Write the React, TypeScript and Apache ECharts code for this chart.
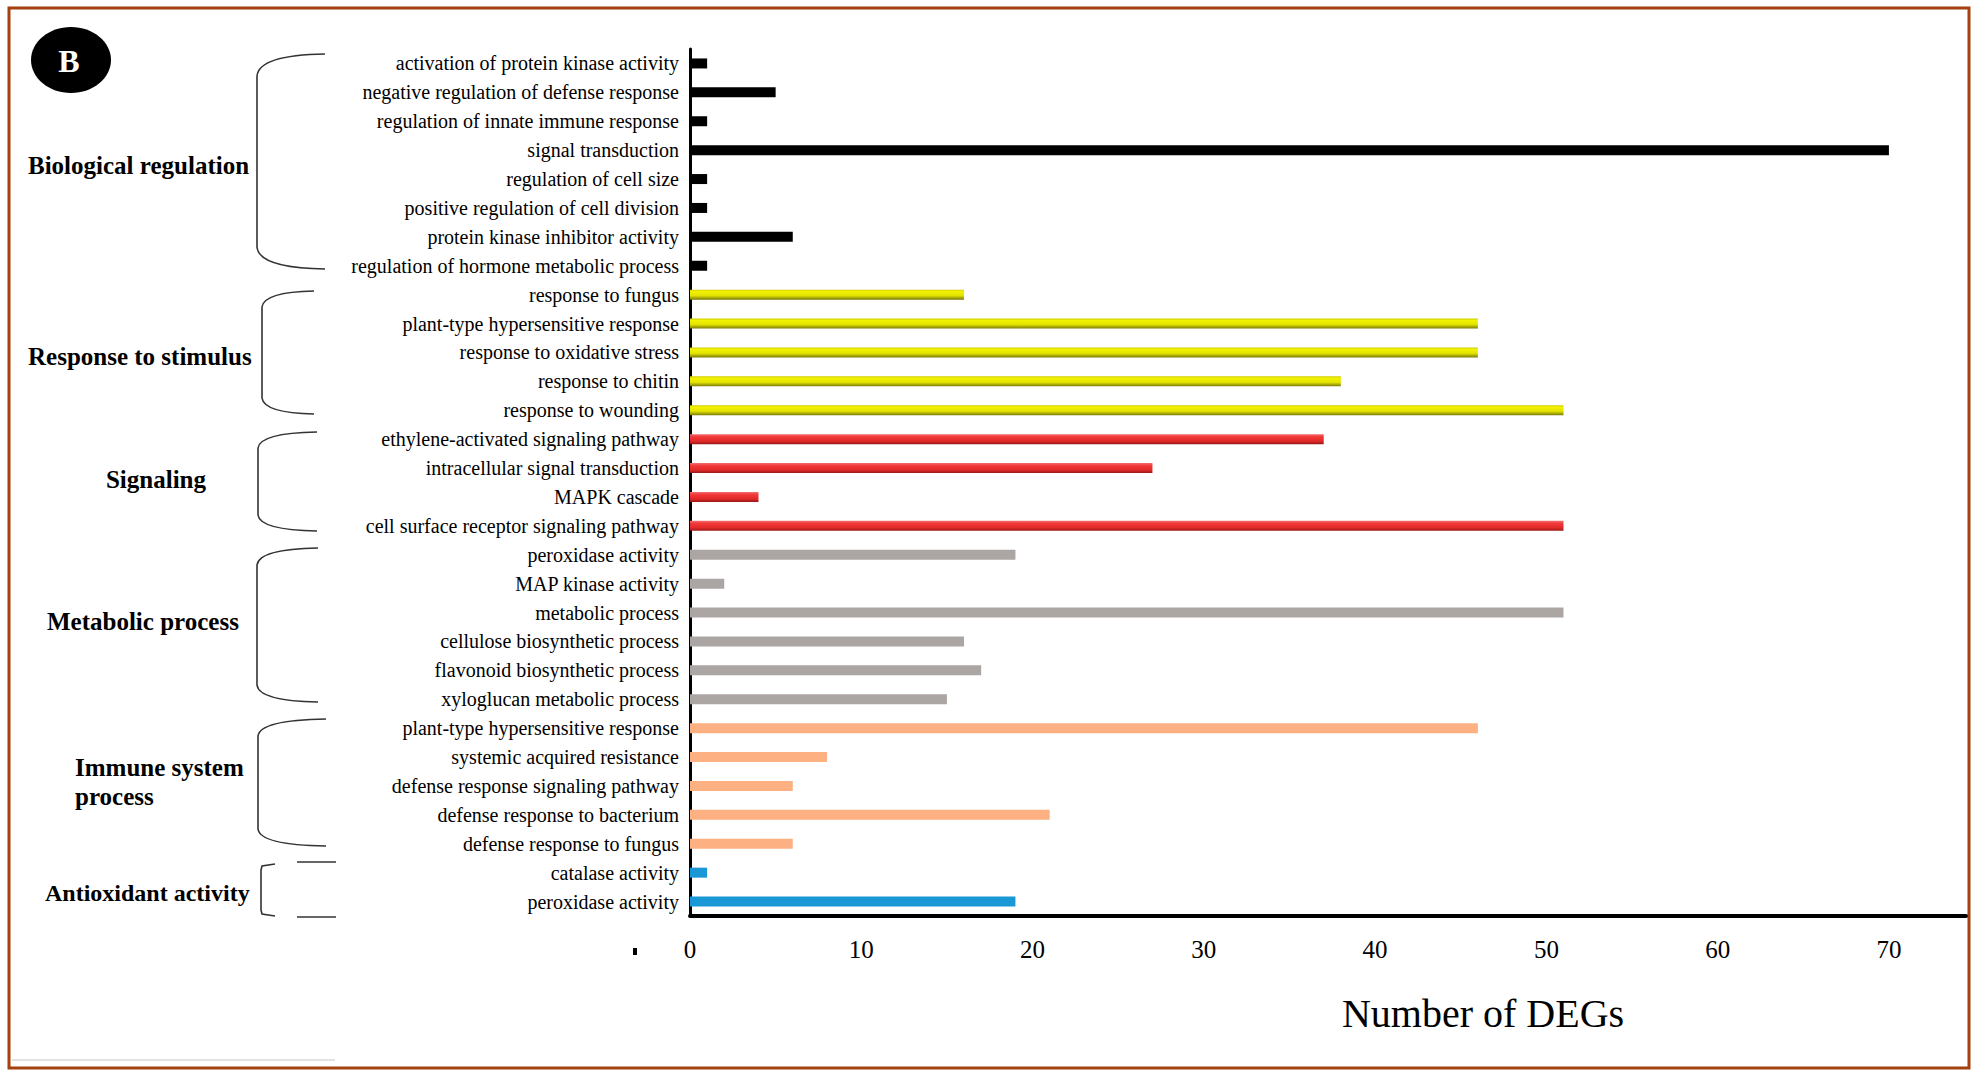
import React, { useEffect, useRef } from "react";
import * as echarts from "echarts";

const categories = [
  "activation of protein kinase activity",
  "negative regulation of defense response",
  "regulation of innate immune response",
  "signal transduction",
  "regulation of cell size",
  "positive regulation of cell division",
  "protein kinase inhibitor activity",
  "regulation of hormone metabolic process",
  "response to fungus",
  "plant-type hypersensitive response",
  "response to oxidative stress",
  "response to chitin",
  "response to wounding",
  "ethylene-activated signaling pathway",
  "intracellular signal transduction",
  "MAPK cascade",
  "cell surface receptor signaling pathway",
  "peroxidase activity",
  "MAP kinase activity",
  "metabolic process",
  "cellulose biosynthetic process",
  "flavonoid biosynthetic process",
  "xyloglucan metabolic process",
  "plant-type hypersensitive response",
  "systemic acquired resistance",
  "defense response signaling pathway",
  "defense response to bacterium",
  "defense response to fungus",
  "catalase activity",
  "peroxidase activity",
];

const values = [
  1, 5, 1, 70, 1, 1, 6, 1,
  16, 46, 46, 38, 51,
  37, 27, 4, 51,
  19, 2, 51, 16, 17, 15,
  46, 8, 6, 21, 6,
  1, 19,
];

const groupSizes = [8, 5, 4, 6, 5, 2];
const groupKeys = ["black", "yellow", "red", "gray", "salmon", "blue"];
const xTickLabels = [0, 10, 20, 30, 40, 50, 60, 70];

const FONT = "'Liberation Serif', 'Times New Roman', serif";

function groupColor(key: string): any {
  if (key === "black") return "#000000";
  if (key === "yellow")
    return new echarts.graphic.LinearGradient(0, 0, 0, 1, [
      { offset: 0, color: "#cfcf00" },
      { offset: 0.2, color: "#f2f200" },
      { offset: 0.6, color: "#e2e200" },
      { offset: 1, color: "#7a7a08" },
    ]);
  if (key === "red")
    return new echarts.graphic.LinearGradient(0, 0, 0, 1, [
      { offset: 0, color: "#f07070" },
      { offset: 0.25, color: "#f23a3a" },
      { offset: 0.7, color: "#e22828" },
      { offset: 1, color: "#961818" },
    ]);
  if (key === "gray") return "#aba5a3";
  if (key === "salmon") return "#fdb182";
  return "#1a98d6";
}

function brace(xr: number, yt: number, xv: number, yb: number, r: number) {
  const st = { stroke: "#333", lineWidth: 1.6, fill: null as any };
  return [
    {
      type: "bezierCurve",
      shape: { x1: xr, y1: yt, x2: xv, y2: yt + r, cpx1: xv + 2, cpy1: yt + 1 },
      style: st,
    },
    {
      type: "line",
      shape: { x1: xv, y1: yt + r, x2: xv, y2: yb - r },
      style: st,
    },
    {
      type: "bezierCurve",
      shape: { x1: xv, y1: yb - r, x2: xr, y2: yb, cpx1: xv + 2, cpy1: yb - 1 },
      style: st,
    },
  ];
}

export default function App() {
  const ref = useRef<HTMLDivElement>(null);

  useEffect(() => {
    document.body.style.margin = "0";
    if (!ref.current) return;
    const chart = echarts.init(ref.current, null, { renderer: "svg" });

    const colorsPerItem: string[] = [];
    groupSizes.forEach((n, gi) => {
      for (let i = 0; i < n; i++) colorsPerItem.push(groupKeys[gi]);
    });

    const data = values.map((v, i) => ({
      value: v,
      itemStyle: { color: groupColor(colorsPerItem[i]) },
    }));

    const labelStyle = (
      text: string,
      x: number,
      y: number,
      align: string = "left",
      size: number = 25
    ) => ({
      type: "text",
      x,
      y,
      style: {
        text,
        fill: "#000",
        fontSize: size,
        fontWeight: "bold",
        fontFamily: FONT,
        align,
        verticalAlign: "middle",
      },
    });

    const antiSt = { stroke: "#333", lineWidth: 1.6, fill: null as any };

    const option: any = {
      animation: false,
      backgroundColor: "#ffffff",
      grid: { left: 690, right: 13, top: 49, bottom: 163, containLabel: false },
      xAxis: {
        type: "value",
        min: 0,
        max: 74.5,
        interval: 10,
        splitLine: { show: false },
        axisTick: { show: false },
        axisLine: { show: true, lineStyle: { color: "#000", width: 4 } },
        axisLabel: {
          color: "#000",
          fontSize: 25,
          fontFamily: FONT,
          margin: 21,
          showMaxLabel: false,
          formatter: (v: number) =>
            xTickLabels.indexOf(v) >= 0 ? String(v) : "",
        },
      },
      yAxis: {
        type: "category",
        inverse: true,
        data: categories,
        axisTick: { show: false },
        axisLine: { show: true, lineStyle: { color: "#000", width: 3 } },
        axisLabel: {
          color: "#000",
          fontSize: 20,
          fontFamily: FONT,
          margin: 11,
        },
      },
      series: [
        {
          type: "bar",
          data,
          barWidth: 10,
          silent: true,
        },
      ],
      graphic: [
        {
          type: "rect",
          shape: { x: 9, y: 8, width: 1960, height: 1060 },
          style: { fill: null, stroke: "#a4410f", lineWidth: 3 },
          silent: true,
        },
        {
          type: "line",
          shape: { x1: 12, y1: 1060, x2: 335, y2: 1060 },
          style: { stroke: "#d8d8d8", lineWidth: 1.5 },
        },
        {
          type: "ellipse",
          shape: { cx: 71, cy: 60, rx: 40, ry: 33 },
          style: { fill: "#000" },
        },
        {
          type: "text",
          x: 69,
          y: 61,
          style: {
            text: "B",
            fill: "#fff",
            fontSize: 32,
            fontWeight: "bold",
            fontFamily: FONT,
            align: "center",
            verticalAlign: "middle",
          },
        },
        labelStyle("Biological regulation", 28, 165),
        labelStyle("Response to stimulus", 28, 356),
        labelStyle("Signaling", 156, 479, "center"),
        labelStyle("Metabolic process", 47, 621),
        labelStyle("Immune system", 75, 767),
        labelStyle("process", 75, 796),
        labelStyle("Antioxidant activity", 45, 893, "left", 24),
        ...brace(325, 54, 257, 269, 22),
        ...brace(314, 291, 262, 414, 16),
        ...brace(317, 432, 258, 531, 16),
        ...brace(318, 548, 257, 702, 17),
        ...brace(326, 719, 258, 846, 17),
        {
          type: "polyline",
          shape: {
            points: [
              [275, 864],
              [262, 866],
              [261, 870],
              [261, 910],
              [262, 914],
              [275, 916],
            ],
          },
          style: antiSt,
        },
        {
          type: "line",
          shape: { x1: 297, y1: 862, x2: 336, y2: 862 },
          style: antiSt,
        },
        {
          type: "line",
          shape: { x1: 297, y1: 917, x2: 336, y2: 917 },
          style: antiSt,
        },
        {
          type: "rect",
          shape: { x: 633, y: 948, width: 4, height: 7 },
          style: { fill: "#000" },
        },
        {
          type: "text",
          x: 1483,
          y: 1013,
          style: {
            text: "Number of DEGs",
            fill: "#000",
            fontSize: 40,
            fontFamily: FONT,
            align: "center",
            verticalAlign: "middle",
          },
        },
      ],
    };

    chart.setOption(option);
    return () => chart.dispose();
  }, []);

  return <div ref={ref} style={{ width: 1979, height: 1079 }} />;
}
